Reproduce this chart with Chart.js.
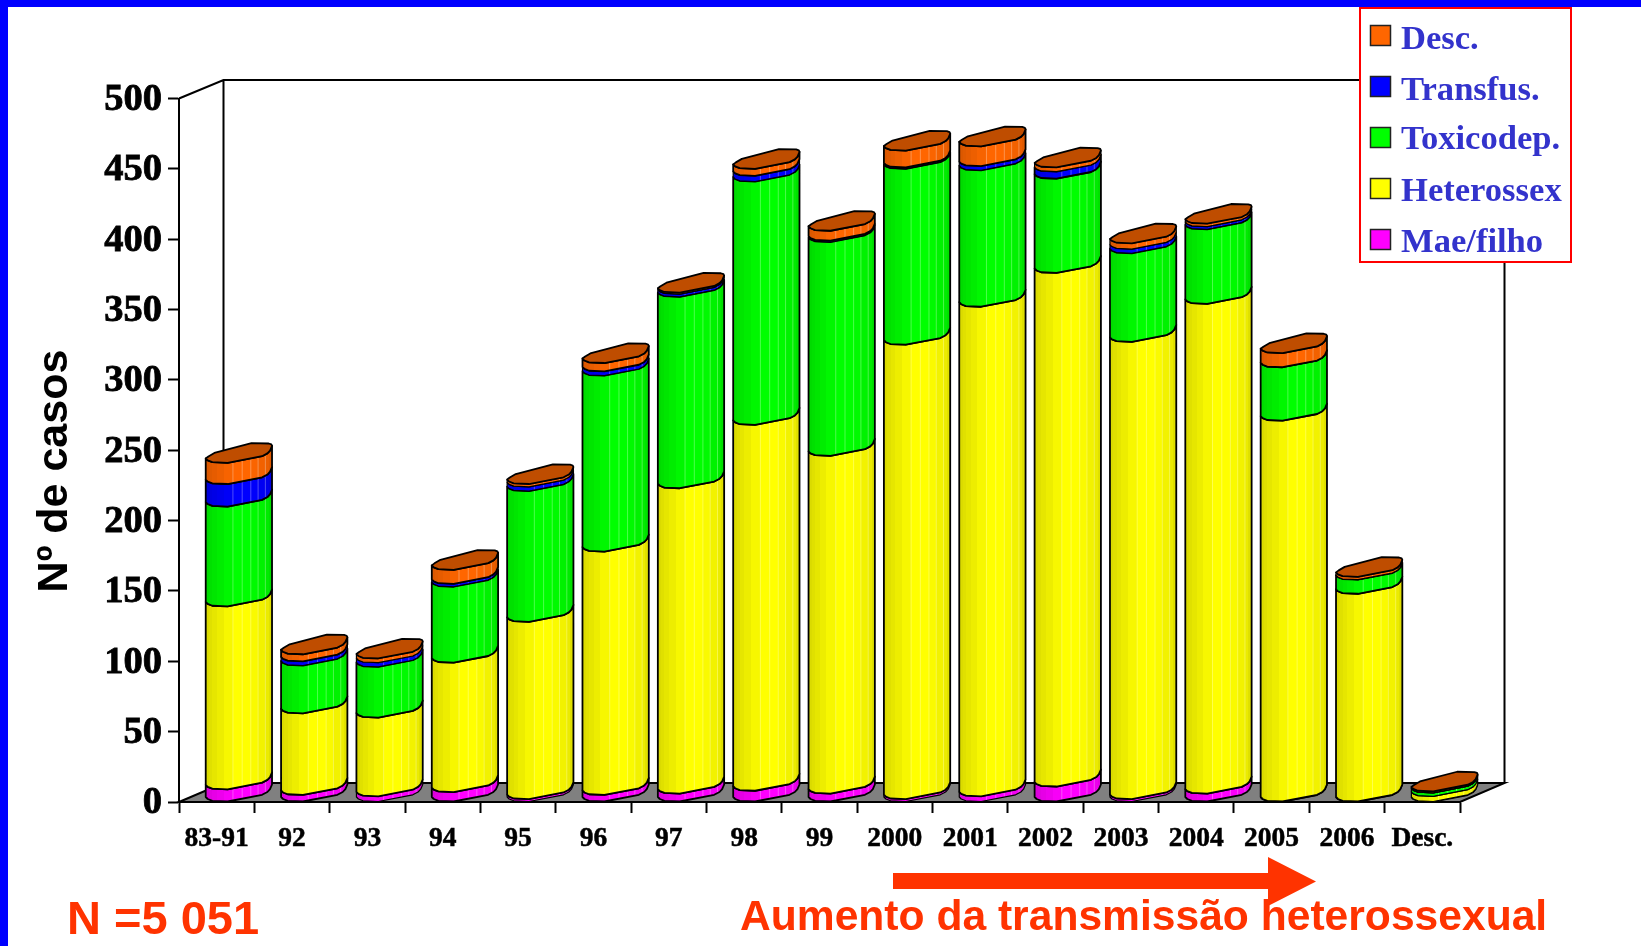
<!DOCTYPE html>
<html>
<head>
<meta charset="utf-8">
<title>Nº de casos</title>
<script src="https://cdn.jsdelivr.net/npm/chart.js@4"></script>
<style>html,body{margin:0;padding:0;background:#fff}canvas{display:block}</style>
</head>
<body>
<canvas id="c" width="1641" height="946"></canvas>
<script>
const categories = ['83-91','92','93','94','95','96','97','98','99','2000','2001','2002','2003','2004','2005','2006','Desc.'];
const maeFilho   = [9,5,4,7,2,5,6,8,6,2,4,11,2,6,0,0,0];
const heterossex = [130,58,56,92,126,173,217,260,240,323,348,365,325,348,271,148,4];
const toxicodep  = [71,34,36,54,93,125,136,173,152,125,97,67,63,53,38,10,2.5];
const transfus   = [16,3,3,2,3,3,2,4,1,1,3,5,3,2,0,0,0];
const desc       = [15,5,3,10,2,6,1,5,7,12,14,3,4,2,10,2,1];

const seriesNames  = ['Mae/filho','Heterossex','Toxicodep.','Transfus.','Desc.'];
const seriesColors = ['#FF00FF','#FFFF00','#00FF00','#0000FF','#FF6600'];
const seriesValues = [maeFilho, heterossex, toxicodep, transfus, desc];

const RED = '#FF3300', LEGEND_TEXT = '#3333CC';
const SERIF = '"Liberation Serif", serif', SANS = '"Liberation Sans", sans-serif';
const DEPTH_X = 44.5, DEPTH_Y = 19, BAR_SHIFT = 22.2, Y_LABEL_NUDGE = 1.5;

// bar outline as fractions of width (x) and pixels from the front low point (y)
const FRONT = [[0,-4.5],[.03,-2.5],[.10,-.7],[.33,0],[.85,-6.7],[.93,-9.5],[.97,-12.3],[1,-17]];
const BACK  = [[1,-17],[.99,-18.5],[.95,-19.4],[.69,-19.7],[.13,-10],[.04,-6.5],[0,-4.5]];
const FACETS = [0,.05,.10,.17,.27,.41,.55,.68,.79,.90,.95,1];
const SHADE  = [.86,.88,.90,.93,.97,1,1,.98,.95,.92,.88];
const GLINTS = [.41,.55,.68,.79,.90];

function shade(hex,k){
  const n=parseInt(hex.slice(1),16);
  return `rgb(${Math.round((n>>16&255)*k)},${Math.round((n>>8&255)*k)},${Math.round((n&255)*k)})`;
}
function drawSegment(ctx,el,color){
  const w=el.width, L=el.x+BAR_SHIFT-w/2, top=el.y, base=el.base;
  const path=new Path2D();
  FRONT.forEach((p,i)=>{const x=L+p[0]*w,y=top+p[1]; i?path.lineTo(x,y):path.moveTo(x,y);});
  for(let i=FRONT.length-1;i>=0;i--) path.lineTo(L+FRONT[i][0]*w,base+FRONT[i][1]);
  path.closePath();
  const g=ctx.createLinearGradient(L,0,L+w,0);
  SHADE.forEach((k,i)=>{const c=shade(color,k); g.addColorStop(FACETS[i],c); g.addColorStop(FACETS[i+1],c);});
  ctx.fillStyle=g; ctx.fill(path);
  ctx.save(); ctx.clip(path);
  ctx.strokeStyle='rgba(255,255,255,.3)'; ctx.lineWidth=1;
  GLINTS.forEach(f=>{ctx.beginPath();ctx.moveTo(L+f*w,top-25);ctx.lineTo(L+f*w,base+2);ctx.stroke();});
  ctx.restore();
  ctx.strokeStyle='#000'; ctx.lineWidth=(base-top)<6?1.2:1.8; ctx.lineJoin='round'; ctx.stroke(path);
}
function drawCap(ctx,el,color){
  const w=el.width, L=el.x+BAR_SHIFT-w/2, top=el.y;
  ctx.beginPath();
  FRONT.concat(BACK).forEach((p,i)=>{const x=L+p[0]*w,y=top+p[1]; i?ctx.lineTo(x,y):ctx.moveTo(x,y);});
  ctx.closePath();
  ctx.fillStyle=shade(color,.75); ctx.fill();
  ctx.strokeStyle='#000'; ctx.lineWidth=1.8; ctx.stroke();
}

const scene = {
  id:'scene',
  beforeDraw(chart){
    const ctx=chart.ctx;
    ctx.save();
    ctx.fillStyle='#fff'; ctx.fillRect(0,0,chart.width,chart.height);
    ctx.fillStyle='#0000FF';
    ctx.fillRect(0,0,chart.width,7);
    ctx.fillRect(0,0,8,chart.height);
    ctx.restore();
    const items=chart.scales.y.getLabelItems(chart.chartArea);
    if(!items._nudged){ items.forEach(it=>{it.options.translation[1]+=Y_LABEL_NUDGE;}); items._nudged=true; }
  },
  beforeDatasetDraw(){ return false; },
  beforeDatasetsDraw(chart){
    const ctx=chart.ctx, a=chart.chartArea;
    ctx.save();
    // floor
    ctx.beginPath();
    ctx.moveTo(a.left,a.bottom);
    ctx.lineTo(a.left+DEPTH_X,a.bottom-DEPTH_Y);
    ctx.lineTo(a.right+DEPTH_X,a.bottom-DEPTH_Y);
    ctx.lineTo(a.right,a.bottom);
    ctx.closePath();
    ctx.fillStyle='#808080'; ctx.fill();
    ctx.strokeStyle='#000'; ctx.lineWidth=2; ctx.stroke();
    // walls
    ctx.beginPath();
    ctx.moveTo(a.left,a.top);
    ctx.lineTo(a.left+DEPTH_X,a.top-DEPTH_Y+0.5);
    ctx.lineTo(a.right+DEPTH_X,a.top-DEPTH_Y+0.5);
    ctx.lineTo(a.right+DEPTH_X,a.bottom-DEPTH_Y);
    ctx.moveTo(a.left+DEPTH_X,a.top-DEPTH_Y+0.5);
    ctx.lineTo(a.left+DEPTH_X,a.bottom-DEPTH_Y);
    ctx.stroke();
    // bars
    const metas=chart.data.datasets.map((d,i)=>chart.getDatasetMeta(i));
    categories.forEach((_,i)=>{
      metas.forEach((m,s)=>drawSegment(ctx,m.data[i],seriesColors[s]));
      drawCap(ctx,metas[metas.length-1].data[i],seriesColors[metas.length-1]);
    });
    ctx.restore();
  },
  afterDraw(chart){
    const ctx=chart.ctx;
    ctx.save();
    // legend
    ctx.fillStyle='#fff'; ctx.fillRect(1360,8,211,254);
    ctx.strokeStyle='#FF0000'; ctx.lineWidth=2; ctx.strokeRect(1360,8,211,254);
    const names=seriesNames.slice().reverse(), cols=seriesColors.slice().reverse();
    const base=[48.5,99.5,149,201,252], swatch=[25,76,127,178,229];
    ctx.textAlign='left'; ctx.textBaseline='alphabetic';
    ctx.font='bold 34.6px '+SERIF;
    names.forEach((n,i)=>{
      ctx.fillStyle=cols[i]; ctx.fillRect(1370.5,swatch[i]+.5,20,20);
      ctx.strokeStyle='#222'; ctx.lineWidth=1.5; ctx.strokeRect(1370.5,swatch[i]+.5,20,20);
      ctx.fillStyle=LEGEND_TEXT; ctx.fillText(n,1401,base[i]);
    });
    // y title
    ctx.save();
    ctx.translate(67,471); ctx.rotate(-Math.PI/2);
    ctx.textAlign='center'; ctx.fillStyle='#000'; ctx.font='bold 43px '+SANS;
    ctx.fillText('Nº de casos',0,0);
    ctx.restore();
    // annotations
    ctx.fillStyle=RED;
    ctx.beginPath();
    ctx.moveTo(893,873);ctx.lineTo(1268,873);ctx.lineTo(1268,857);ctx.lineTo(1316,881.5);
    ctx.lineTo(1268,906);ctx.lineTo(1268,889);ctx.lineTo(893,889);ctx.closePath();ctx.fill();
    ctx.font='bold 47px '+SANS; ctx.fillText('N =5 051',67,934);
    ctx.font='bold 42.6px '+SANS; ctx.fillText('Aumento da transmissão heterossexual',740,930);
    ctx.restore();
  }
};

new Chart(document.getElementById('c'),{
  type:'bar',
  data:{
    labels:categories,
    datasets:seriesNames.map((n,i)=>({label:n,data:seriesValues[i],backgroundColor:seriesColors[i],
      categoryPercentage:1,barPercentage:.88}))
  },
  plugins:[scene],
  options:{
    responsive:false,animation:false,
    layout:{padding:{left:0,top:98.5,right:181,bottom:0}},
    plugins:{legend:{display:false},tooltip:{enabled:false},title:{display:false}},
    scales:{
      x:{
        stacked:true,
        afterFit(s){s.height=144;},
        grid:{display:true,drawOnChartArea:false,drawTicks:true,tickLength:11,tickColor:'#000',tickWidth:2},
        border:{display:true,color:'#000',width:2},
        ticks:{autoSkip:false,maxRotation:0,minRotation:0,padding:9,color:'#000',textStrokeColor:'#000',textStrokeWidth:.5,
          font:{family:SERIF,weight:'bold',size:27.5}}
      },
      y:{
        stacked:true,min:0,max:500,
        afterFit(s){s.width=179;},
        grid:{display:true,drawOnChartArea:false,drawTicks:true,tickLength:11,tickColor:'#000',tickWidth:2},
        border:{display:true,color:'#000',width:2},
        ticks:{stepSize:50,padding:6,color:'#000',textStrokeColor:'#000',textStrokeWidth:.8,
          font:{family:SERIF,weight:'bold',size:38.5}}
      }
    }
  }
});
</script>
</body>
</html>
